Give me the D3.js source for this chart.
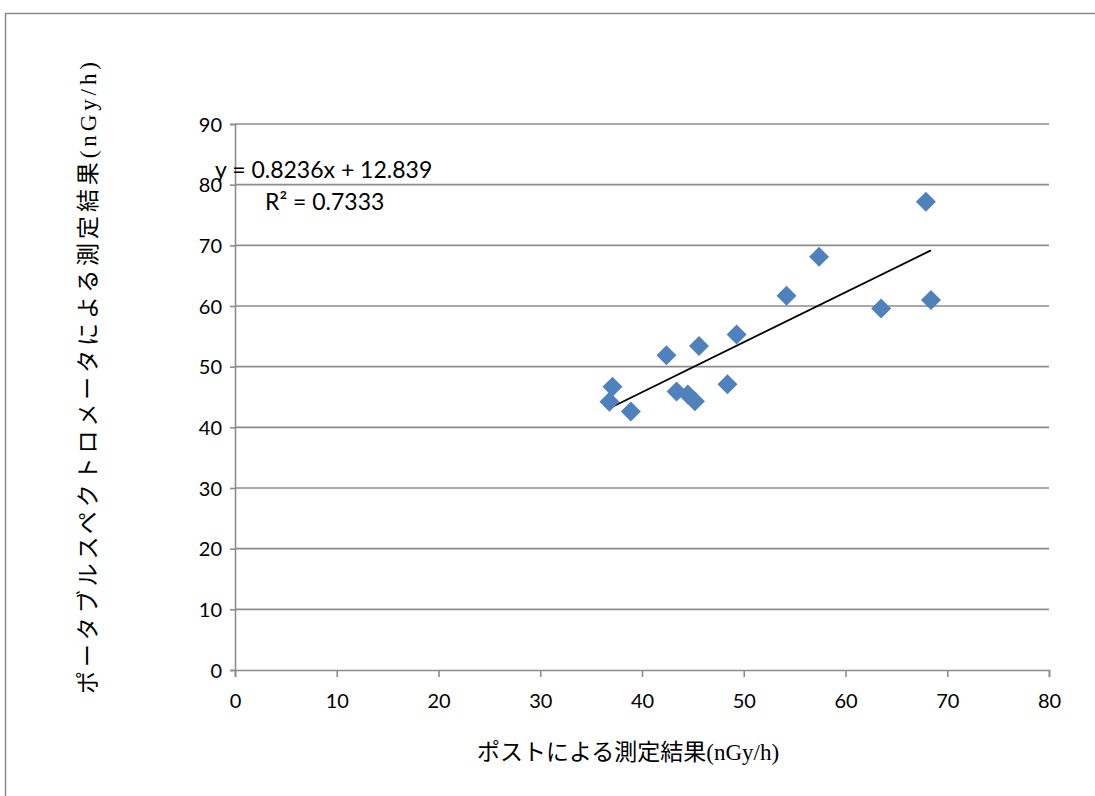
<!DOCTYPE html>
<html>
<head>
    <meta charset="utf-8">
    <script src="https://d3js.org/d3.v7.min.js"></script>
    <title>scatter</title>
    <style>
        body { margin: 0; background: #fff; }
    </style>
</head>
<body>
    <svg id="chart"></svg>
    <script>
        // data
        const postValues     = [36.8, 37.1, 38.9, 42.4, 43.4, 44.5, 45.2, 45.6, 48.4, 49.3, 54.2, 57.4, 63.5, 68.4, 67.9];
        const portableValues = [44.2, 46.7, 42.6, 51.9, 45.9, 45.4, 44.3, 53.4, 47.1, 55.3, 61.7, 68.1, 59.6, 61.0, 77.2];
        const xTicks = [0, 10, 20, 30, 40, 50, 60, 70, 80];
        const yTicks = [0, 10, 20, 30, 40, 50, 60, 70, 80, 90];
        const slope = 0.8236;
        const intercept = 12.839;
        const eqLabel = "y = 0.8236x + 12.839";
        const r2Label = "R² = 0.7333";
        const xTitle = "ポストによる測定結果(nGy/h)";
        const yTitle = "ポータブルスペクトロメータによる測定結果(nGy/h)";

        const width = 1095, height = 796;
        const svg = d3.select("svg#chart")
                      .attr("width", width)
                      .attr("height", height);

        // outer frame
        svg.append("rect")
           .attr("x", 5.5).attr("y", 13.5)
           .attr("width", 1200).attr("height", 900)
           .attr("fill", "none")
           .attr("stroke", "#8a8a8a")
           .attr("stroke-width", 1.5);

        const x = d3.scaleLinear().domain([0, 80]).range([235, 1049]);
        const y = d3.scaleLinear().domain([0, 90]).range([670, 124]);

        const tickFont = "Lato, 'Open Sans', sans-serif";

        // horizontal grid
        svg.append("g").selectAll("line").data(yTicks.filter(d => d > 0))
           .join("line")
           .attr("x1", x(0)).attr("x2", x(80))
           .attr("y1", d => y(d)).attr("y2", d => y(d))
           .attr("stroke", "#8c8c8c")
           .attr("stroke-width", 1.6);

        // y axis
        const yAxis = svg.append("g")
            .attr("transform", `translate(${x(0)},0)`)
            .call(d3.axisLeft(y).tickValues(yTicks).tickSize(5).tickPadding(8));
        // x axis
        const xAxis = svg.append("g")
            .attr("transform", `translate(0,${y(0)})`)
            .call(d3.axisBottom(x).tickValues(xTicks).tickSize(7).tickPadding(17));

        [xAxis, yAxis].forEach(g => {
            g.select(".domain").attr("stroke", "#8c8c8c").attr("stroke-width", 1.6);
            g.selectAll(".tick line").attr("stroke", "#8c8c8c").attr("stroke-width", 1.6);
            g.selectAll(".tick text")
             .attr("fill", "#000")
             .style("font-family", tickFont)
             .style("font-size", "20px");
        });
        yAxis.selectAll(".tick text").attr("dy", "0.36em");

        // trend line over the range of the data
        const xMin = d3.min(postValues), xMax = d3.max(postValues);
        svg.append("line")
           .attr("x1", x(xMin)).attr("y1", y(slope * xMin + intercept))
           .attr("x2", x(xMax)).attr("y2", y(slope * xMax + intercept))
           .attr("stroke", "#000")
           .attr("stroke-width", 1.8);

        // points
        const points = postValues.map((v, i) => ({x: v, y: portableValues[i]}));
        const diamond = d3.symbol(d3.symbolSquare, 200);
        svg.append("g").selectAll("path").data(points)
           .join("path")
           .attr("d", diamond)
           .attr("transform", d => `translate(${x(d.x)},${y(d.y)}) rotate(45)`)
           .attr("fill", "#4F81BD");

        // equation
        svg.append("text")
           .attr("x", 215).attr("y", 178)
           .style("font-family", tickFont)
           .style("font-size", "23px")
           .text(eqLabel);
        svg.append("text")
           .attr("x", 265).attr("y", 210)
           .style("font-family", tickFont)
           .style("font-size", "23px")
           .text(r2Label);

        // axis titles
        const titleFont = "'Liberation Serif', 'Noto Sans CJK JP', serif";
        svg.append("text")
           .attr("x", 628).attr("y", 760)
           .attr("text-anchor", "middle")
           .style("font-family", titleFont)
           .style("font-size", "23px")
           .text(xTitle);
        svg.append("text")
           .attr("transform", "translate(96,378) rotate(-90)")
           .attr("text-anchor", "middle")
           .attr("textLength", 632)
           .attr("lengthAdjust", "spacing")
           .style("font-family", titleFont)
           .style("font-size", "23px")
           .text(yTitle);
    </script>
</body>
</html>
